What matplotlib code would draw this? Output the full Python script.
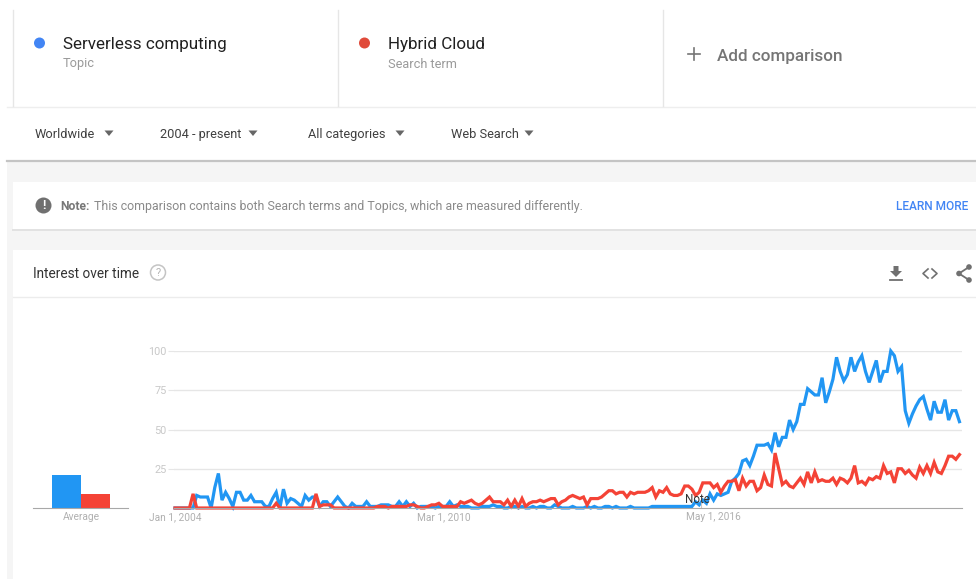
import matplotlib
matplotlib.use("Agg")
import matplotlib.pyplot as plt
from matplotlib.patches import Rectangle, Circle, Polygon

plt.rcParams['font.family'] = ['Roboto', 'DejaVu Sans']

W, H = 976, 579

# monthly interest
serverless = [0, 0, 0, 0, 0, 0, 8, 7, 7, 7, 0, 13, 22, 5, 10, 6, 1, 10, 10, 5,
              5, 8, 4, 4, 4, 1, 1, 6, 10, 0, 12, 3, 6, 5, 3, 1, 8, 5, 7, 7,
              1, 4, 4, 1, 4, 7, 4, 1, 0, 3, 1, 1, 1, 4, 1, 1, 1, 2, 2, 2,
              1, 1, 4, 1, 4, 1, 3, 0, 1, 1, 1, 1, 0, 1, 1, 1, 4, 1, 2, 1,
              1, 1, 0, 0, 0, 1, 1, 1, 2, 1, 1, 0, 0, 1, 1, 0, 1, 0, 0, 1,
              0, 1, 1, 0, 0, 2, 1, 0, 0, 0, 1, 0, 0, 0, 1, 0, 1, 0, 0, 1,
              1, 0, 1, 0, 0, 0, 1, 0, 0, 0, 0, 0, 1, 1, 1, 1, 1, 1, 1, 1,
              1, 1, 1, 1, 4, 2, 5, 3, 9, 5, 9, 8, 9, 10, 17, 19, 22, 30, 31, 27,
              33, 40, 40, 40, 41, 37, 48, 39, 45, 45, 56, 50, 55, 66, 66, 76, 74, 72, 72, 83,
              67, 74, 82, 96, 87, 81, 85, 96, 87, 93, 97, 87, 80, 87, 94, 80, 87, 87, 100, 97,
              87, 90, 62, 54, 60, 65, 69, 71, 63, 56, 68, 61, 61, 69, 56, 62, 62, 55]
hybrid = [0, 0, 0, 0, 0, 9, 0, 0, 0, 0, 0, 0, 0, 0, 0, 0, 0, 0, 0, 0,
          0, 0, 0, 0, 0, 0, 0, 0, 3, 0, 0, 0, 0, 0, 0, 0, 0, 0, 0, 9,
          1, 2, 2, 2, 0, 0, 0, 0, 0, 0, 0, 0, 0, 0, 0, 0, 1, 1, 1, 0,
          1, 1, 1, 1, 1, 2, 2, 1, 0, 0, 1, 2, 2, 3, 1, 1, 1, 1, 1, 4,
          3, 4, 5, 3, 2, 3, 5, 7, 4, 4, 4, 2, 5, 1, 5, 1, 6, 1, 3, 4,
          4, 5, 4, 5, 6, 6, 2, 4, 5, 7, 8, 7, 6, 7, 2, 6, 6, 6, 7, 9,
          11, 11, 9, 10, 10, 7, 10, 9, 10, 10, 10, 11, 13, 7, 11, 10, 13, 9, 8, 8,
          9, 14, 14, 12, 8, 10, 16, 16, 16, 13, 15, 10, 14, 17, 17, 18, 11, 19, 14, 17,
          17, 11, 13, 21, 15, 14, 35, 25, 15, 17, 14, 13, 16, 19, 15, 23, 16, 23, 17, 18,
          17, 17, 19, 15, 19, 18, 16, 19, 27, 16, 17, 15, 19, 18, 20, 19, 27, 22, 23, 16,
          25, 25, 22, 24, 21, 19, 26, 22, 27, 22, 29, 23, 22, 27, 33, 33, 31, 34]
avg_values = [21, 9]
y_ticks = [25, 50, 75, 100]
date_ticks = [0, 74, 148]
date_labels = ["Jan 1, 2004", "Mar 1, 2010", "May 1, 2016"]
filters = ["Worldwide", "2004 - present", "All categories", "Web Search"]

BLUE = "#2196f3"
RED = "#f44336"

fig = plt.figure(figsize=(W / 100, H / 100), dpi=100, facecolor="white")

# page furniture, in pixel coordinates
bg = fig.add_axes([0, 0, 1, 1])
bg.set_xlim(0, W)
bg.set_ylim(H, 0)
bg.axis("off")

bg.add_patch(Rectangle((7, 162), W - 7, H - 162, fc="#f5f5f5", ec="none"))
bg.add_patch(Rectangle((13, 182), W - 13, 47, fc="white", ec="none"))
bg.add_patch(Rectangle((13, 250), W - 13, H - 250, fc="white", ec="none"))
bg.plot([7, W], [161, 161], color="#c4c4c4", lw=1.6)
bg.plot([13, W], [229.5, 229.5], color="#e2e2e2", lw=1.4)
bg.plot([13, W], [296.5, 296.5], color="#ececec", lw=1)
bg.plot([7, W], [106.5, 106.5], color="#eeeeee", lw=1)
for x in [13, 337.5, 663]:
    bg.plot([x, x], [10, 106], color="#e6e6e6", lw=1)

bg.add_patch(Circle((39.5, 43), 5.5, fc="#4285f4", ec="none"))
bg.add_patch(Circle((364.5, 43), 5.5, fc="#e04a3a", ec="none"))
bg.text(63, 44, "Serverless computing", fontsize=12.25, color="#202020", va="center")
bg.text(63, 64, "Topic", fontsize=9.2, color="#9a9a9a", va="center")
bg.text(388, 44, "Hybrid Cloud", fontsize=12.25, color="#202020", va="center")
bg.text(388, 64, "Search term", fontsize=9.2, color="#9a9a9a", va="center")
bg.plot([688, 700], [54, 54], color="#757575", lw=1.2)
bg.plot([694, 694], [48, 60], color="#757575", lw=1.2)
bg.text(717, 56, "Add comparison", fontsize=12.3, color="#757575", va="center", fontweight="medium")

for label, x, tx in zip(filters, [35, 160, 308, 451], [109, 253, 400, 529]):
    bg.text(x, 134.5, label, fontsize=9.2, color="#404040", va="center")
    bg.add_patch(Polygon([(tx - 4.5, 130.5), (tx + 4.5, 130.5), (tx, 136)], fc="#666666", ec="none"))

# note bar
bg.add_patch(Circle((43.5, 205.5), 8, fc="#707070", ec="none"))
bg.text(43.5, 205.5, "!", fontsize=9, color="white", ha="center", va="center", fontweight="bold")
bg.text(60, 206.5, "Note:", fontsize=8.7, color="#777777", va="center", fontweight="bold")
bg.text(94, 206.5, "This comparison contains both Search terms and Topics, which are measured differently.",
        fontsize=8.9, color="#8a8a8a", va="center")
bg.text(968.5, 206.5, "LEARN MORE", fontsize=8.6, color="#4285f4", va="center", ha="right", fontweight="medium")

# card header
bg.text(33, 274, "Interest over time", fontsize=9.85, color="#333333", va="center")
bg.add_patch(Circle((158, 272.5), 7.5, fc="none", ec="#c4c4c4", lw=1.1))
bg.text(158, 272.5, "?", fontsize=8, color="#b5b5b5", ha="center", va="center")

# download, embed and share icons
bg.add_patch(Polygon([(893.5, 266), (898.5, 266), (898.5, 271), (902, 271), (896, 277),
                      (890, 271), (893.5, 271)], fc="#707070", ec="none"))
bg.plot([890, 902], [280, 280], color="#707070", lw=1.3)
bg.plot([928, 923, 928], [269, 273.5, 278], color="#707070", lw=1.2)
bg.plot([932, 937, 932], [269, 273.5, 278], color="#707070", lw=1.2)
bg.plot([969, 959, 969], [267, 273.5, 280], color="#707070", lw=1.3)
for cx, cy, r in [(969, 267, 2.8), (959, 273.5, 2.8), (969, 280, 2.8)]:
    bg.add_patch(Circle((cx, cy), r, fc="#707070", ec="none"))

# average bars
x0, x1 = 33, 128
y_top, y_base = 351, 508
ax_avg = fig.add_axes([x0 / W, 1 - y_base / H, (x1 - x0) / W, (y_base - y_top) / H])
ax_avg.patch.set_alpha(0)
ax_avg.set_xlim(x0, x1)
ax_avg.set_ylim(0, 100)
ax_avg.bar([66.5, 95.5], avg_values, width=29, color=[BLUE, RED])
ax_avg.set_yticks([])
ax_avg.set_xticks([81], ["Average"], fontsize=7.3, color="#b0b0b0")
ax_avg.tick_params(axis="x", length=0, pad=3)
for s in ["top", "left", "right"]:
    ax_avg.spines[s].set_visible(False)
ax_avg.spines["bottom"].set_color("#a8a8a8")

# main chart
x0, x1 = 174, 962
px_month = 3.615
ax = fig.add_axes([x0 / W, 1 - y_base / H, (x1 - x0) / W, (y_base - y_top) / H])
ax.patch.set_alpha(0)
ax.set_xlim((x0 - 175) / px_month, (x1 - 175) / px_month)
ax.set_ylim(0, 100)
ax.grid(axis="y", color="#e6e6e6", lw=1)
ax.set_axisbelow(True)
ax.set_yticks(y_ticks)
ax.set_yticklabels(y_ticks, fontsize=7.8, color="#c8c8c8")
ax.tick_params(axis="y", length=4, color="#e6e6e6", pad=1.5)
ax.set_xticks(date_ticks, date_labels, fontsize=7.3, color="#b0b0b0")
ax.tick_params(axis="x", length=0, pad=3)
for lab, dx in zip(ax.get_xticklabels(), [0, 1, 3]):
    lab.set_x(lab.get_position()[0])
    lab.set_transform(lab.get_transform() + matplotlib.transforms.ScaledTranslation(dx / 100, 0, fig.dpi_scale_trans))
for s in ["top", "left", "right"]:
    ax.spines[s].set_visible(False)
ax.spines["bottom"].set_color("#a8a8a8")
ax.plot(range(len(serverless)), serverless, color=BLUE, lw=2.3, clip_on=False, solid_joinstyle="miter")
ax.plot(range(len(hybrid)), hybrid, color=RED, lw=2.3, clip_on=False, solid_joinstyle="miter")
ax.vlines(145.5, 0, 5, color="#c8c8c8", lw=0.8)
ax.text(144.5, 5.6, "Note", fontsize=8.4, color="#333333", ha="center", va="center")

fig.savefig("out.png", dpi=100)
